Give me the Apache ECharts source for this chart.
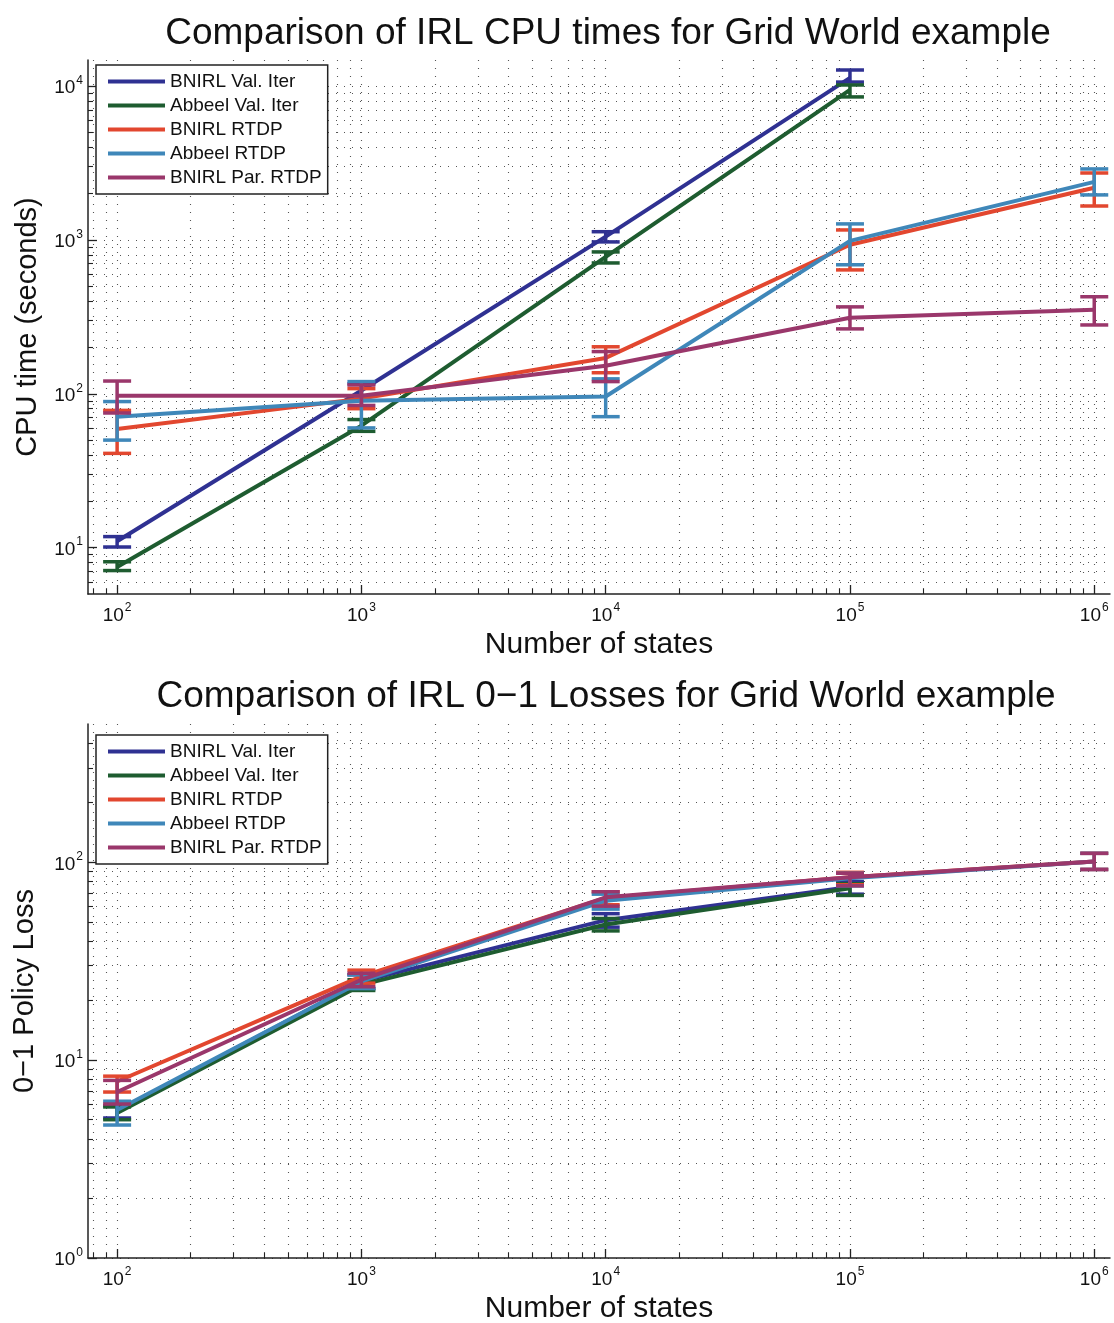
<!DOCTYPE html>
<html>
<head>
<meta charset="utf-8">
<script src="https://cdn.jsdelivr.net/npm/echarts@6/dist/echarts.min.js"></script>
<style>
  html, body { margin: 0; padding: 0; background: #ffffff; }
  #chart { width: 1114px; height: 1323px; }
</style>
</head>
<body>
<div id="chart"></div>
<script>
// ---- data ----
const seriesNames = ['BNIRL Val. Iter', 'Abbeel Val. Iter', 'BNIRL RTDP', 'Abbeel RTDP', 'BNIRL Par. RTDP'];
const seriesColors = ['#2f3192', '#1e5c30', '#e2472f', '#3f87b9', '#9a376b'];
const states = [100, 1000, 10000, 100000, 1000000];

// CPU time (seconds): mean, lower and upper error-bar ends
const cpuBnirlVI      = [11, 105, 1050, 11300];
const cpuBnirlVILo    = [10.1, 97, 970, 10600];
const cpuBnirlVIHi    = [11.8, 116, 1130, 12700];
const cpuAbbeelVI     = [7.5, 62, 776, 9420];
const cpuAbbeelVILo   = [7.1, 57, 708, 8490];
const cpuAbbeelVIHi   = [8.1, 68, 835, 10150];
const cpuBnirlRTDP    = [59, 93, 171, 929, 2180];
const cpuBnirlRTDPLo  = [41, 80, 137, 638, 1660];
const cpuBnirlRTDPHi  = [78, 108, 202, 1160, 2720];
const cpuAbbeelRTDP   = [71, 90, 96, 985, 2380];
const cpuAbbeelRTDPLo = [50, 60, 71, 689, 1960];
const cpuAbbeelRTDPHi = [89, 120, 125, 1270, 2890];
const cpuParRTDP      = [97, 97, 152, 312, 351];
const cpuParRTDPLo    = [75, 84, 120, 264, 280];
const cpuParRTDPHi    = [121, 114, 188, 367, 427];

// 0-1 policy loss: mean, lower and upper error-bar ends
const lossBnirlVI      = [5.5, 25, 51, 75];
const lossBnirlVILo    = [5.1, 23, 47, 69];
const lossBnirlVIHi    = [5.9, 27, 55, 80];
const lossAbbeelVI     = [5.4, 24, 48.5, 74];
const lossAbbeelVILo   = [5.0, 22.5, 45, 68];
const lossAbbeelVIHi   = [5.8, 25.5, 52, 78];
const lossBnirlRTDP    = [7.8, 26.5, 66, 84, 101];
const lossBnirlRTDPLo  = [6.9, 24.5, 61, 77, 92];
const lossBnirlRTDPHi  = [8.3, 28.5, 71, 89, 111];
const lossAbbeelRTDP   = [5.6, 25, 64, 83, 101];
const lossAbbeelRTDPLo = [4.7, 23, 58, 76, 92];
const lossAbbeelRTDPHi = [6.2, 27, 69, 88, 111];
const lossParRTDP      = [6.9, 25.5, 66.5, 84, 101];
const lossParRTDPLo    = [6.0, 23.5, 60, 76, 92];
const lossParRTDPHi    = [7.9, 27.5, 71, 88, 111];

// ---- axis ticks ----
const xMajorTicks = [100, 1000, 10000, 100000, 1000000];
const cpuMajorTicks = [10, 100, 1000, 10000];
const lossMajorTicks = [1, 10, 100];

function minorTicks(lo, hi) {
  const out = [];
  for (let p = Math.floor(Math.log10(lo)); p <= Math.ceil(Math.log10(hi)); p++) {
    for (let m = 2; m <= 9; m++) {
      const v = m * Math.pow(10, p);
      if (v > lo && v < hi) out.push(v);
    }
  }
  return out;
}

const FONT = '"Liberation Sans", Arial, Helvetica, sans-serif';
const X_MIN = 76, X_MAX = 1160000;
const CPU_MIN = 5, CPU_MAX = 14750;
const LOSS_MIN = 1, LOSS_MAX = 500;

function powLabel(v) {
  return '{b|10}{s|' + Math.round(Math.log10(v)) + '}';
}
const powRich = {
  b: { fontSize: 19, color: '#111', fontFamily: FONT, lineHeight: 23, verticalAlign: 'bottom' },
  s: { fontSize: 12, color: '#111', fontFamily: FONT, lineHeight: 23, verticalAlign: 'top', padding: [0, 0, 0, 1] }
};
const dotted = { type: [1, 7], color: '#555', width: 1.1 };
const axisLineStyle = { color: '#222', width: 1.5 };

function xAxesFor(gridIndex) {
  return [
    {
      type: 'log', logBase: 10, gridIndex, min: X_MIN, max: X_MAX, position: 'bottom',
      name: 'Number of states', nameLocation: 'middle', nameGap: 36,
      nameTextStyle: { fontSize: 30, color: '#111', fontFamily: FONT },
      axisLine: { show: true, onZero: false, lineStyle: axisLineStyle },
      axisTick: { show: true, inside: true, length: 9, customValues: xMajorTicks, lineStyle: { color: '#222', width: 1.3 } },
      axisLabel: { customValues: xMajorTicks, formatter: powLabel, rich: powRich, margin: 8 },
      splitLine: { show: true, lineStyle: dotted }
    },
    {
      type: 'log', logBase: 10, gridIndex, min: X_MIN, max: X_MAX, position: 'bottom',
      axisLine: { show: false, onZero: false },
      axisTick: { show: true, inside: true, length: 5, customValues: minorTicks(X_MIN, X_MAX), lineStyle: { color: '#222', width: 1.1 } },
      axisLabel: { show: false },
      splitLine: { show: true, lineStyle: dotted }
    }
  ];
}

function yAxesFor(gridIndex, lo, hi, majors, name, nameGap) {
  return [
    {
      type: 'log', logBase: 10, gridIndex, min: lo, max: hi, position: 'left',
      name, nameLocation: 'middle', nameGap,
      nameTextStyle: { fontSize: 29, color: '#111', fontFamily: FONT },
      axisLine: { show: true, onZero: false, lineStyle: axisLineStyle },
      axisTick: { show: true, inside: true, length: 9, customValues: majors, lineStyle: { color: '#222', width: 1.3 } },
      axisLabel: { customValues: majors, formatter: powLabel, rich: powRich, margin: 5 },
      splitLine: { show: true, lineStyle: dotted }
    },
    {
      type: 'log', logBase: 10, gridIndex, min: lo, max: hi, position: 'left',
      axisLine: { show: false, onZero: false },
      axisTick: { show: true, inside: true, length: 5, customValues: minorTicks(lo, hi), lineStyle: { color: '#222', width: 1.1 } },
      axisLabel: { show: false },
      splitLine: { show: true, lineStyle: dotted }
    }
  ];
}

function lineSeries(idx, xAxisIndex, yAxisIndex, values) {
  return {
    type: 'line', name: seriesNames[idx], xAxisIndex, yAxisIndex,
    data: values.map((v, i) => [states[i], v]),
    symbol: 'none', z: 10 + idx * 2,
    lineStyle: { color: seriesColors[idx], width: 4 },
    itemStyle: { color: seriesColors[idx] },
    animation: false
  };
}

function errorSeries(idx, xAxisIndex, yAxisIndex, lo, hi) {
  const color = seriesColors[idx];
  return {
    type: 'custom', name: seriesNames[idx], xAxisIndex, yAxisIndex,
    data: lo.map((l, i) => [states[i], l, hi[i]]),
    encode: { x: 0, y: [1, 2] },
    z: 11 + idx * 2,
    animation: false,
    renderItem(params, api) {
      const x = api.value(0);
      const a = api.coord([x, api.value(1)]);
      const b = api.coord([x, api.value(2)]);
      const hw = 14;
      const style = { stroke: color, lineWidth: 3.5, fill: null };
      return {
        type: 'group',
        children: [
          { type: 'line', shape: { x1: a[0], y1: a[1], x2: b[0], y2: b[1] }, style },
          { type: 'line', shape: { x1: a[0] - hw, y1: a[1], x2: a[0] + hw, y2: a[1] }, style },
          { type: 'line', shape: { x1: b[0] - hw, y1: b[1], x2: b[0] + hw, y2: b[1] }, style }
        ]
      };
    }
  };
}

function legendAt(top) {
  return {
    orient: 'vertical', left: 96, top,
    data: seriesNames.map(n => ({ name: n, icon: 'rect' })),
    itemWidth: 57, itemHeight: 4, itemGap: 5,
    padding: [7, 6, 7, 12],
    backgroundColor: '#ffffff', borderColor: '#222', borderWidth: 1.5,
    textStyle: { fontSize: 19, color: '#111', fontFamily: FONT, lineHeight: 18 },
    selectedMode: false
  };
}

const cpuSets = [
  [cpuBnirlVI, cpuBnirlVILo, cpuBnirlVIHi],
  [cpuAbbeelVI, cpuAbbeelVILo, cpuAbbeelVIHi],
  [cpuBnirlRTDP, cpuBnirlRTDPLo, cpuBnirlRTDPHi],
  [cpuAbbeelRTDP, cpuAbbeelRTDPLo, cpuAbbeelRTDPHi],
  [cpuParRTDP, cpuParRTDPLo, cpuParRTDPHi]
];
const lossSets = [
  [lossBnirlVI, lossBnirlVILo, lossBnirlVIHi],
  [lossAbbeelVI, lossAbbeelVILo, lossAbbeelVIHi],
  [lossBnirlRTDP, lossBnirlRTDPLo, lossBnirlRTDPHi],
  [lossAbbeelRTDP, lossAbbeelRTDPLo, lossAbbeelRTDPHi],
  [lossParRTDP, lossParRTDPLo, lossParRTDPHi]
];

const series = [];
cpuSets.forEach((s, i) => {
  series.push(lineSeries(i, 0, 0, s[0]));
  series.push(errorSeries(i, 0, 0, s[1], s[2]));
});
lossSets.forEach((s, i) => {
  series.push(lineSeries(i, 2, 2, s[0]));
  series.push(errorSeries(i, 2, 2, s[1], s[2]));
});

const chart = echarts.init(document.getElementById('chart'), null, { renderer: 'canvas' });
chart.setOption({
  animation: false,
  backgroundColor: '#ffffff',
  title: [
    { text: 'Comparison of IRL CPU times for Grid World example', left: 603, top: 10, textAlign: 'center',
      textStyle: { fontSize: 37, fontWeight: 'normal', color: '#111', fontFamily: FONT } },
    { text: 'Comparison of IRL 0\u22121 Losses for Grid World example', left: 601, top: 673, textAlign: 'center',
      textStyle: { fontSize: 37, fontWeight: 'normal', color: '#111', fontFamily: FONT } }
  ],
  legend: [legendAt(65), legendAt(735)],
  grid: [
    { left: 88, top: 60, width: 1022, height: 534, outerBoundsMode: 'none', containLabel: false },
    { left: 88, top: 724, width: 1022, height: 534, outerBoundsMode: 'none', containLabel: false }
  ],
  xAxis: [...xAxesFor(0), ...xAxesFor(1)],
  yAxis: [
    ...yAxesFor(0, CPU_MIN, CPU_MAX, cpuMajorTicks, 'CPU time (seconds)', 46),
    ...yAxesFor(1, LOSS_MIN, LOSS_MAX, lossMajorTicks, '0\u22121 Policy Loss', 49)
  ],
  series
});
</script>
</body>
</html>
